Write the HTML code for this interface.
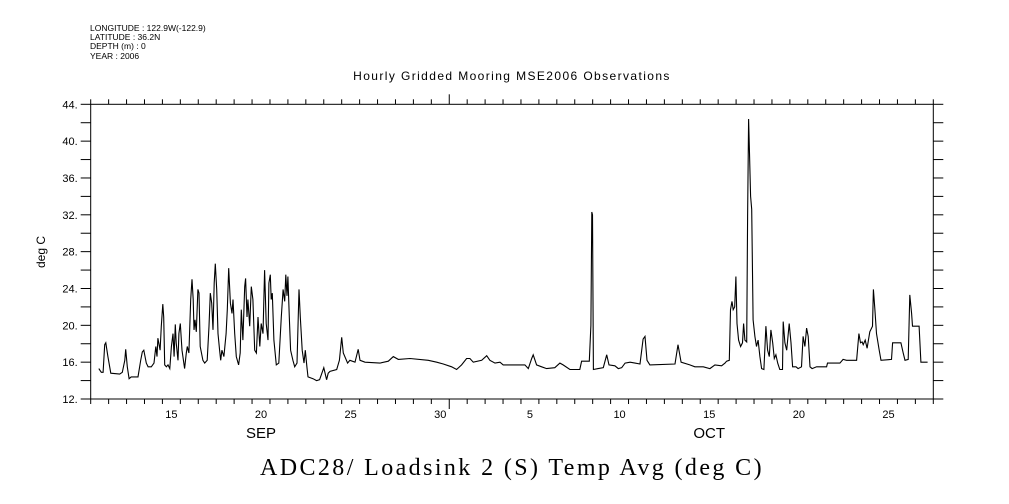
<!DOCTYPE html>
<html><head><meta charset="utf-8"><style>
html,body{margin:0;padding:0;background:#fff;}
svg{display:block;}
text{font-family:"Liberation Sans",sans-serif;fill:#000;}
</style></head><body>
<svg id="chart" width="1009" height="504" viewBox="0 0 1009 504" xmlns="http://www.w3.org/2000/svg">
<g font-size="8.5">
<text x="90" y="31">LONGITUDE : 122.9W(-122.9)</text>
<text x="90" y="40">LATITUDE : 36.2N</text>
<text x="90" y="49">DEPTH (m) : 0</text>
<text x="90" y="59">YEAR : 2006</text>
</g>
<text x="512" y="80" text-anchor="middle" font-size="12" letter-spacing="1.4">Hourly Gridded Mooring MSE2006 Observations</text>
<text transform="translate(45,252) rotate(-90)" text-anchor="middle" font-size="12">deg C</text>
<text x="512" y="475" text-anchor="middle" font-size="24" letter-spacing="2.4" style="font-family:'Liberation Serif',serif">ADC28/ Loadsink 2 (S) Temp Avg (deg C)</text>
<g id="axes"></g>
<g id="plot"></g>
</svg>
<script>
const yTicks=[12,16,20,24,28,32,36,40,44];
const xDayLabels=[{d:4,t:"15"},{d:9,t:"20"},{d:14,t:"25"},{d:19,t:"30"},{d:24,t:"5"},{d:29,t:"10"},{d:34,t:"15"},{d:39,t:"20"},{d:44,t:"25"}];
const monthLabels=[{d:9.5,t:"SEP"},{d:34.5,t:"OCT"}];
const days=[0.45,0.59,0.69,0.78,0.84,0.96,1.12,1.62,1.76,1.90,1.95,2.04,2.14,2.26,2.64,2.79,2.88,2.96,3.10,3.20,3.38,3.53,3.63,3.70,3.75,3.87,3.94,4.02,4.07,4.13,4.22,4.31,4.41,4.50,4.59,4.65,4.72,4.77,4.87,4.92,5.00,5.09,5.24,5.33,5.39,5.48,5.58,5.65,5.72,5.76,5.82,5.89,5.98,6.04,6.11,6.26,6.36,6.50,6.60,6.67,6.75,6.82,6.89,6.95,7.03,7.10,7.19,7.25,7.32,7.43,7.55,7.62,7.70,7.79,7.88,7.94,8.03,8.12,8.25,8.34,8.40,8.49,8.59,8.64,8.72,8.77,8.87,8.96,9.05,9.15,9.24,9.33,9.43,9.51,9.61,9.70,9.79,9.89,9.94,10.02,10.07,10.13,10.22,10.35,10.49,10.63,10.73,10.82,10.88,10.95,11.00,11.08,11.15,11.28,11.38,11.51,11.62,11.69,11.80,11.90,11.97,12.06,12.12,12.40,12.60,12.77,13.00,13.16,13.25,13.35,13.72,13.87,14.00,14.09,14.33,14.46,14.74,14.92,15.02,15.30,16.13,16.60,16.88,17.16,17.81,18.83,19.30,19.67,20.13,20.41,20.69,20.97,21.15,21.34,21.81,22.09,22.27,22.55,22.83,23.01,24.22,24.41,24.60,24.68,24.87,25.15,25.43,25.89,26.17,26.35,26.73,27.28,27.38,27.81,27.90,27.95,27.99,28.04,28.31,28.59,28.78,28.91,29.24,29.43,29.62,29.81,30.09,30.36,30.64,30.81,30.92,31.03,31.19,32.59,32.76,32.93,33.42,33.70,34.17,34.54,34.82,35.19,35.38,35.47,35.62,35.69,35.77,35.84,35.92,35.99,36.05,36.14,36.25,36.36,36.42,36.49,36.59,36.64,36.70,36.75,36.81,36.87,36.95,37.05,37.14,37.23,37.33,37.42,37.55,37.66,37.76,37.85,37.94,38.04,38.13,38.22,38.32,38.44,38.59,38.63,38.72,38.82,38.96,39.06,39.15,39.34,39.46,39.65,39.74,39.84,39.93,40.02,40.12,40.24,40.49,41.05,41.10,41.79,41.97,42.16,42.72,42.85,42.94,43.03,43.09,43.20,43.31,43.46,43.61,43.66,43.74,43.83,43.98,44.08,44.67,44.73,45.19,45.32,45.42,45.60,45.69,45.79,45.84,46.21,46.31,46.68];
const temps=[15.3,14.9,14.9,17.9,18.1,16.6,14.8,14.7,14.9,16.2,17.4,15.5,14.2,14.4,14.4,16.2,17.1,17.3,15.9,15.5,15.5,15.9,17.7,16.6,18.6,17.3,19.9,22.3,20.9,15.7,15.5,15.7,15.3,17.7,19.1,16.6,20.1,18.1,16.2,19.1,20.2,17.3,15.3,17.0,17.7,17.0,22.8,25.0,22.8,19.5,20.6,19.3,23.9,23.5,17.7,16.2,15.9,16.2,19.9,23.5,22.4,19.5,24.6,26.7,23.9,19.1,17.3,16.2,17.3,16.6,19.1,21.7,26.2,22.4,21.3,22.8,19.1,16.6,15.7,17.0,21.7,18.4,24.2,25.1,20.9,22.8,19.9,24.2,22.8,17.3,17.0,20.9,17.7,20.2,19.1,26.0,20.2,18.4,24.6,25.5,22.8,23.5,18.4,15.7,15.9,20.9,23.9,22.6,25.5,23.2,25.3,20.9,17.3,16.2,15.5,15.9,23.9,20.9,17.3,15.9,17.3,15.5,14.4,14.2,14.0,14.1,15.4,14.1,14.8,15.0,15.2,16.2,18.7,17.0,15.9,16.2,16.0,17.4,16.2,16.0,15.9,16.1,16.6,16.3,16.4,16.2,16.0,15.8,15.5,15.2,15.7,16.4,16.4,16.0,16.2,16.7,16.2,15.9,16.0,15.7,15.7,15.3,16.4,16.8,15.7,15.5,15.3,15.4,15.9,15.7,15.2,15.2,16.1,16.1,20.0,32.3,32.0,15.2,15.3,15.4,16.8,15.7,15.6,15.3,15.4,15.9,16.0,15.9,15.8,18.5,18.8,16.2,15.7,15.8,17.9,16.0,15.7,15.5,15.5,15.3,15.7,15.6,15.9,16.1,16.2,21.7,22.6,21.7,22.0,25.3,20.2,18.4,17.7,18.1,20.2,18.4,18.2,31.8,42.4,38.7,34.0,32.6,20.6,18.8,17.7,18.4,16.6,15.3,15.2,19.9,17.3,16.6,19.5,18.1,16.4,16.8,15.9,15.2,15.2,20.4,18.1,17.3,20.2,18.1,15.5,15.5,15.3,15.5,18.8,17.7,19.7,18.8,15.5,15.3,15.5,15.5,15.9,15.9,16.3,16.2,16.2,19.1,18.1,18.2,17.9,18.4,17.5,19.3,19.9,23.9,21.7,19.1,17.3,16.2,16.3,18.1,18.1,17.0,16.2,16.3,23.3,21.3,19.9,19.9,16.0,16.0];
const X0=90.7,X1=933.3,Y0=399,Y1=104.3,NDAYS=47,YMIN=12,YMAX=44;
function xs(d){return X0+(X1-X0)*d/NDAYS;}
function ys(v){return Y0-(Y0-Y1)*(v-YMIN)/(YMAX-YMIN);}
const NS="http://www.w3.org/2000/svg";
const axes=document.getElementById('axes'),plot=document.getElementById('plot');
function mk(tag,attrs,parent){const e=document.createElementNS(NS,tag);for(const k in attrs)e.setAttribute(k,attrs[k]);parent.appendChild(e);return e;}
const frame=mk('rect',{x:X0,y:Y1,width:X1-X0,height:Y0-Y1,fill:'none',stroke:'#000','stroke-width':1},axes);


for(let v=YMIN;v<=YMAX;v+=2){
  const y=ys(v);
  const tl=mk('line',{x1:X0-10,x2:X0,y1:y,y2:y,stroke:'#000','stroke-width':1},axes);
  
  
  const tr=mk('line',{x1:X1,x2:X1+10,y1:y,y2:y,stroke:'#000','stroke-width':1},axes);
  
  
}
yTicks.forEach(v=>{
  const t=mk('text',{x:X0-13,y:ys(v)+4,'text-anchor':'end','font-size':11},axes);
  t.textContent=v+'.';
  
  
});
for(let d=0;d<=NDAYS;d++){
  const x=xs(d);const big=(d===20);
  const b=mk('line',{x1:x,x2:x,y1:Y0,y2:Y0+(big?10:5),stroke:'#000','stroke-width':1},axes);
  
  
  const t=mk('line',{x1:x,x2:x,y1:Y1-(big?10:5),y2:Y1,stroke:'#000','stroke-width':1},axes);
  
  
}
xDayLabels.forEach(o=>{
  const t=mk('text',{x:xs(o.d+0.5),y:418,'text-anchor':'middle','font-size':11},axes);
  t.textContent=o.t;
  
  
});
monthLabels.forEach(o=>{
  const t=mk('text',{x:xs(o.d),y:438,'text-anchor':'middle','font-size':15},axes);
  t.textContent=o.t;
  
  
});
const pts=days.map((d,i)=>xs(d).toFixed(1)+','+ys(temps[i]).toFixed(1)).join(' ');
const line=mk('polyline',{points:pts,fill:'none',stroke:'#000','stroke-width':1.1,'stroke-linejoin':'miter'},plot);


</script>
</body></html>
